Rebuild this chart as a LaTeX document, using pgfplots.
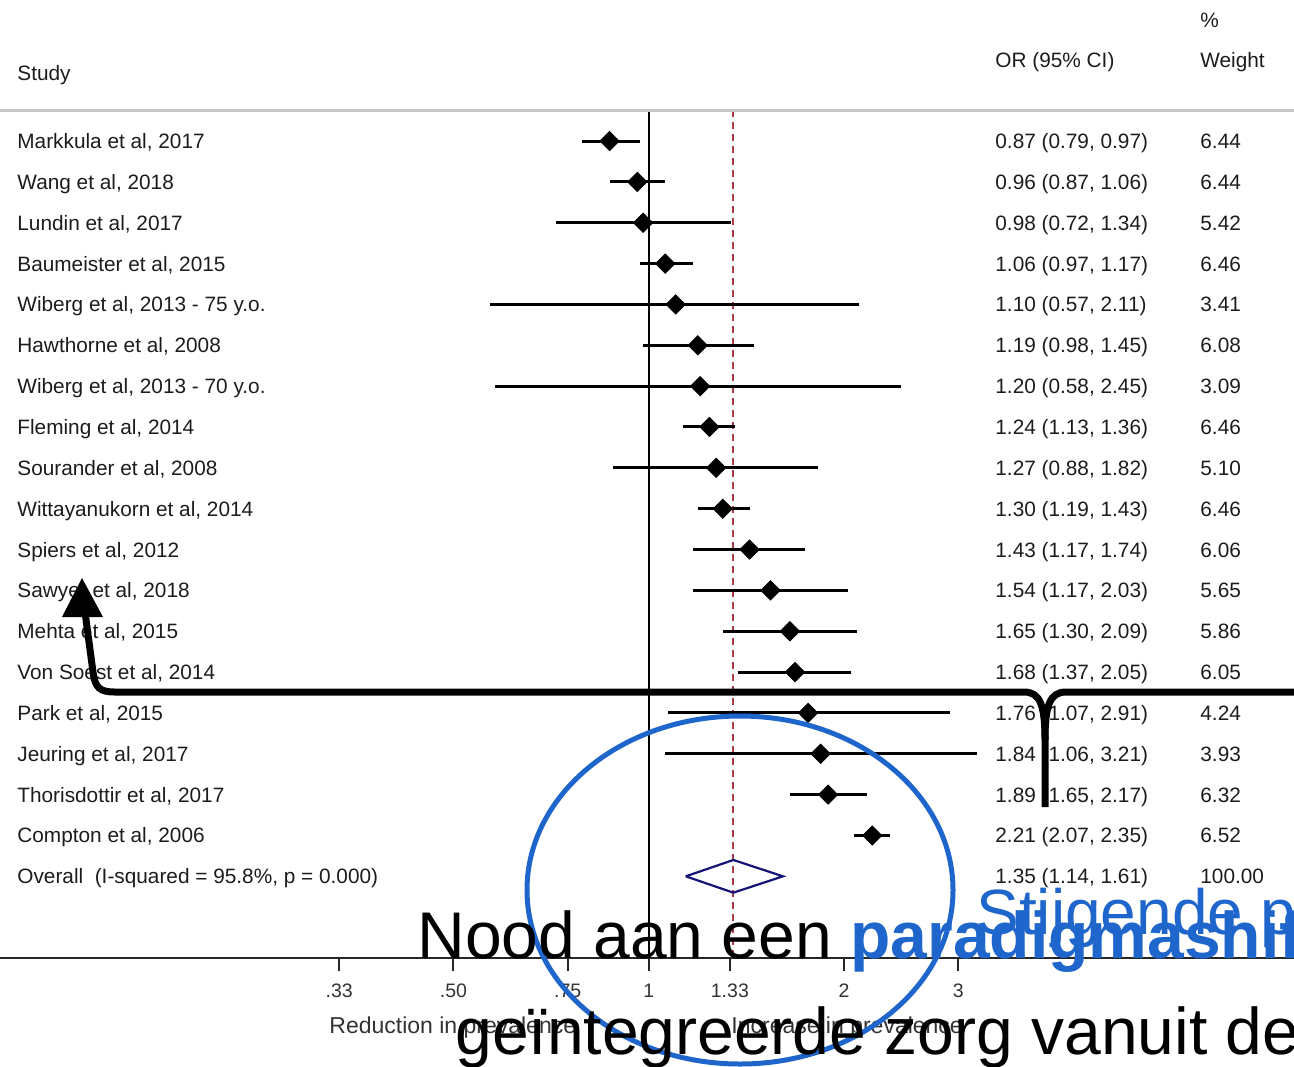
\documentclass[border=0pt]{standalone}
\usepackage{pgfplots}
\pgfplotsset{compat=1.18}
\usepackage{fontspec}
\setmainfont{Liberation Sans}
\definecolor{slideblue}{RGB}{31,102,204}
\definecolor{navyd}{RGB}{20,20,120}
\definecolor{refred}{RGB}{170,60,70}
\definecolor{txtc}{RGB}{28,28,28}
\newcommand\studyrow[4]{%
  \pgfmathsetmacro\yy{148.5+40.85*(#1-1)}%
  \node[txt] at (17,\yy) {#2};
  \node[txt] at (995,\yy) {#3};
  \node[txt] at (1200,\yy) {#4};}
\begin{document}
\begin{tikzpicture}
\useasboundingbox (0,0) rectangle (647pt,-533pt);
\clip (0,0) rectangle (647pt,-533pt);
\begin{axis}[
  at={(0pt,-479pt)}, anchor=south west,
  scale only axis, width=647pt, height=424pt,
  xmode=log, xmin=0.1, xmax=9.872,
  ymin=-21, ymax=-0.24,
  axis x line*=bottom, axis y line=none,
  axis line style={black!85, line width=1pt},
  xtick={0.3333,0.5,0.75,1,1.3333,2,3},
  xticklabels={.33,.50,.75,1,1.33,2,3},
  xminorticks=false,
  tick align=outside, major tick length=6.5pt,
  xtick style={black!85, line width=1pt},
  x tick label style={font=\fontsize{9.75pt}{11pt}\selectfont, text=black!80, yshift=-3pt},
  clip=false,
]
\addplot[black, line width=1pt] coordinates {(1,-0.24) (1,-21)};
\addplot[refred, line width=0.9pt, dash pattern=on 3.5pt off 2.5pt] coordinates {(1.35,-0.24) (1.35,-21)};
\addplot[black, line width=1.5pt] coordinates {(0.79,-1) (0.97,-1)};
\addplot[black, line width=1.5pt] coordinates {(0.87,-2) (1.06,-2)};
\addplot[black, line width=1.5pt] coordinates {(0.72,-3) (1.34,-3)};
\addplot[black, line width=1.5pt] coordinates {(0.97,-4) (1.17,-4)};
\addplot[black, line width=1.5pt] coordinates {(0.57,-5) (2.11,-5)};
\addplot[black, line width=1.5pt] coordinates {(0.98,-6) (1.45,-6)};
\addplot[black, line width=1.5pt] coordinates {(0.58,-7) (2.45,-7)};
\addplot[black, line width=1.5pt] coordinates {(1.13,-8) (1.36,-8)};
\addplot[black, line width=1.5pt] coordinates {(0.88,-9) (1.82,-9)};
\addplot[black, line width=1.5pt] coordinates {(1.19,-10) (1.43,-10)};
\addplot[black, line width=1.5pt] coordinates {(1.17,-11) (1.74,-11)};
\addplot[black, line width=1.5pt] coordinates {(1.17,-12) (2.03,-12)};
\addplot[black, line width=1.5pt] coordinates {(1.30,-13) (2.09,-13)};
\addplot[black, line width=1.5pt] coordinates {(1.37,-14) (2.05,-14)};
\addplot[black, line width=1.5pt] coordinates {(1.07,-15) (2.91,-15)};
\addplot[black, line width=1.5pt] coordinates {(1.06,-16) (3.21,-16)};
\addplot[black, line width=1.5pt] coordinates {(1.65,-17) (2.17,-17)};
\addplot[black, line width=1.5pt] coordinates {(2.07,-18) (2.35,-18)};
\addplot[only marks, mark=square*, mark size=3.4pt, mark options={rotate=45, fill=black, draw=black}] coordinates {
(0.87,-1) (0.96,-2) (0.98,-3) (1.06,-4) (1.10,-5) (1.19,-6) (1.20,-7) (1.24,-8) (1.27,-9)
(1.30,-10) (1.43,-11) (1.54,-12) (1.65,-13) (1.68,-14) (1.76,-15) (1.84,-16) (1.89,-17) (2.21,-18)};
\addplot[navyd, line width=1.1pt, line join=miter] coordinates {(1.14,-19) (1.35,-18.6) (1.61,-19) (1.35,-19.4) (1.14,-19)};
\end{axis}
\begin{scope}[x=0.5pt, y=-0.5pt, txt/.style={anchor=base west, inner sep=0pt, text=txtc, font=\fontsize{10.4pt}{12pt}\selectfont}]
\draw[black!22, line width=1.5pt] (0,110) -- (1294,110);
\node[txt] at (17,80) {Study};
\node[txt] at (995,67) {OR (95\% CI)};
\node[txt] at (1200,27) {\%};
\node[txt] at (1200,67) {Weight};
\studyrow{1}{Markkula et al, 2017}{0.87 (0.79, 0.97)}{6.44}
\studyrow{2}{Wang et al, 2018}{0.96 (0.87, 1.06)}{6.44}
\studyrow{3}{Lundin et al, 2017}{0.98 (0.72, 1.34)}{5.42}
\studyrow{4}{Baumeister et al, 2015}{1.06 (0.97, 1.17)}{6.46}
\studyrow{5}{Wiberg et al, 2013 - 75 y.o.}{1.10 (0.57, 2.11)}{3.41}
\studyrow{6}{Hawthorne et al, 2008}{1.19 (0.98, 1.45)}{6.08}
\studyrow{7}{Wiberg et al, 2013 - 70 y.o.}{1.20 (0.58, 2.45)}{3.09}
\studyrow{8}{Fleming et al, 2014}{1.24 (1.13, 1.36)}{6.46}
\studyrow{9}{Sourander et al, 2008}{1.27 (0.88, 1.82)}{5.10}
\studyrow{10}{Wittayanukorn et al, 2014}{1.30 (1.19, 1.43)}{6.46}
\studyrow{11}{Spiers et al, 2012}{1.43 (1.17, 1.74)}{6.06}
\studyrow{12}{Sawyer et al, 2018}{1.54 (1.17, 2.03)}{5.65}
\studyrow{13}{Mehta et al, 2015}{1.65 (1.30, 2.09)}{5.86}
\studyrow{14}{Von Soest et al, 2014}{1.68 (1.37, 2.05)}{6.05}
\studyrow{15}{Park et al, 2015}{1.76 (1.07, 2.91)}{4.24}
\studyrow{16}{Jeuring et al, 2017}{1.84 (1.06, 3.21)}{3.93}
\studyrow{17}{Thorisdottir et al, 2017}{1.89 (1.65, 2.17)}{6.32}
\studyrow{18}{Compton et al, 2006}{2.21 (2.07, 2.35)}{6.52}
\studyrow{19}{Overall\ \ (I-squared = 95.8\%, p = 0.000)}{1.35 (1.14, 1.61)}{100.00}
\node[txt, anchor=base west, font=\fontsize{11.5pt}{13pt}\selectfont, text=black!80] at (329,1033) {Reduction in prevalence};
\node[txt, anchor=base west, font=\fontsize{11.5pt}{13pt}\selectfont, text=black!80] at (731,1033) {Increase in prevalence};
% overlays
\draw[slideblue, line width=2.5pt] (740,890) ellipse [x radius=106.5pt, y radius=87pt];
\draw[black, line width=3.5pt, line join=round] (85,612) -- (93,672) .. controls (95,688) and (100,692) .. (115,692) -- (1024,692) .. controls (1040,692) and (1045,705) .. (1045,740) -- (1045,807);
\draw[black, line width=3.5pt] (1300,692) -- (1066,692) .. controls (1050,692) and (1045,705) .. (1045,740);
\fill[black] (82,578) -- (103,617) -- (62,617) -- cycle;
\node[anchor=base west, inner sep=0pt, text=slideblue, font=\fontsize{32pt}{38pt}\selectfont] at (976,934) {Stijgende prevalentie};
\node[anchor=base west, inner sep=0pt, font=\fontsize{33pt}{38pt}\selectfont] at (417,958) {Nood aan een \textcolor{slideblue}{\bfseries paradigmashift}};
\node[anchor=base west, inner sep=0pt, font=\fontsize{33pt}{38pt}\selectfont] at (455,1054) {geïntegreerde zorg vanuit de};
\end{scope}
\end{tikzpicture}
\end{document}
